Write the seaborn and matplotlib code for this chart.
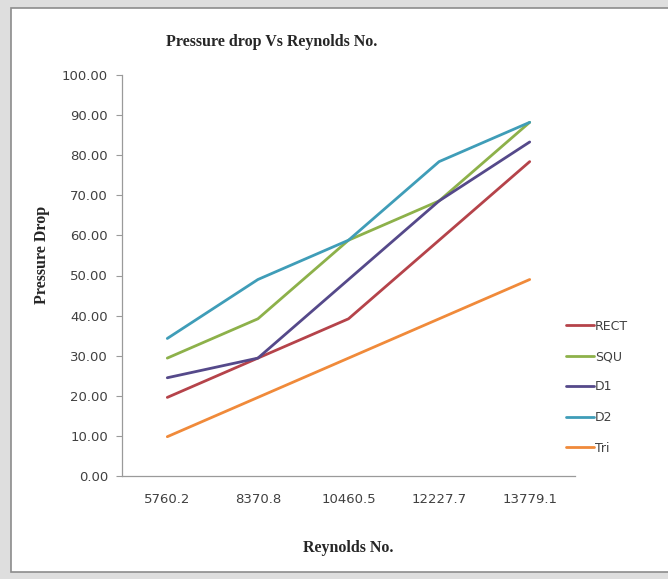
import matplotlib
matplotlib.use("Agg")
import matplotlib.pyplot as plt
from matplotlib.patches import Rectangle
import seaborn as sns
import pandas as pd

# Reynolds numbers (categorical x axis)
reynolds = ["5760.2", "8370.8", "10460.5", "12227.7", "13779.1"]

# Pressure drop for each duct shape
rect = [19.6, 29.4, 39.2, 58.8, 78.4]
squ = [29.4, 39.2, 58.8, 68.6, 88.2]
d1 = [24.5, 29.4, 49.0, 68.6, 83.3]
d2 = [34.3, 49.0, 58.8, 78.4, 88.2]
tri = [9.8, 19.6, 29.4, 39.2, 49.0]

series_names = ["RECT", "SQU", "D1", "D2", "Tri"]
series_colors = ["#B5434A", "#8DB14A", "#55498A", "#3F9DB8", "#F08A3A"]

y_ticks = [0, 10, 20, 30, 40, 50, 60, 70, 80, 90, 100]

frames = []
for name, vals in zip(series_names, [rect, squ, d1, d2, tri]):
    frames.append(pd.DataFrame({"Reynolds No.": reynolds, "Pressure Drop": vals, "Shape": name}))
df = pd.concat(frames, ignore_index=True)

sns.set_style("white")
plt.rcParams["font.family"] = ["DejaVu Sans"]

fig = plt.figure(figsize=(6.68, 5.79), dpi=100, facecolor="#dedede")
# white chart area with thin gray border, kept behind the axes
frame = Rectangle((11 / 668, 1 - 572 / 579), 1.0, (572 - 8) / 579,
                  transform=fig.transFigure, facecolor="white",
                  edgecolor="#8c8c8c", linewidth=1.2, zorder=-10)
fig.add_artist(frame)

ax = fig.add_axes([122 / 668, 1 - 476 / 579, (575 - 122) / 668, (476 - 75) / 579])
ax.set_facecolor("none")
ax.set_zorder(5)

sns.lineplot(data=df, x="Reynolds No.", y="Pressure Drop", hue="Shape",
             hue_order=series_names, palette=series_colors, linewidth=2.0,
             sort=False, ax=ax, legend=True)

ax.set_xlim(-0.5, 4.5)
ax.set_ylim(0, 100)
ax.set_yticks(y_ticks)
ax.set_yticklabels([f"{v:.2f}" for v in y_ticks], fontsize=9.5, color="#404040")
ax.set_xticks(range(len(reynolds)))
ax.set_xticklabels(reynolds, fontsize=9.5, color="#404040")
ax.tick_params(axis="y", which="major", length=4, width=0.8, color="#9a9a9a", pad=6, left=True)
ax.tick_params(axis="x", which="major", length=0, pad=12)

for side in ["top", "right"]:
    ax.spines[side].set_visible(False)
for side in ["left", "bottom"]:
    ax.spines[side].set_color("#9a9a9a")
    ax.spines[side].set_linewidth(0.9)

serif = ["Liberation Serif", "DejaVu Serif"]
ax.set_xlabel("Reynolds No.", fontsize=11.5, fontweight="bold", family=serif)
ax.set_ylabel("Pressure Drop", fontsize=11.5, fontweight="bold", family=serif)
ax.xaxis.set_label_coords(0.5, -(548 - 476) / 401, transform=ax.transAxes)
ax.xaxis.label.set_va("center")
ax.yaxis.set_label_coords(-(122 - 42) / 453, (476 - 255) / 401, transform=ax.transAxes)
ax.yaxis.label.set_va("center")
fig.text(272 / 668, 1 - 42 / 579, "Pressure drop Vs Reynolds No.", ha="center", va="center",
         fontsize=11.5, fontweight="bold", family=serif)

leg = ax.legend(loc="center left", bbox_to_anchor=(0.97, (476 - 387) / 401), frameon=False,
                fontsize=9, handlelength=2.2, handletextpad=0.1, labelspacing=1.4,
                borderaxespad=0)
for t in leg.get_texts():
    t.set_color("#404040")

fig.savefig("out.png", dpi=100, facecolor=fig.get_facecolor())
